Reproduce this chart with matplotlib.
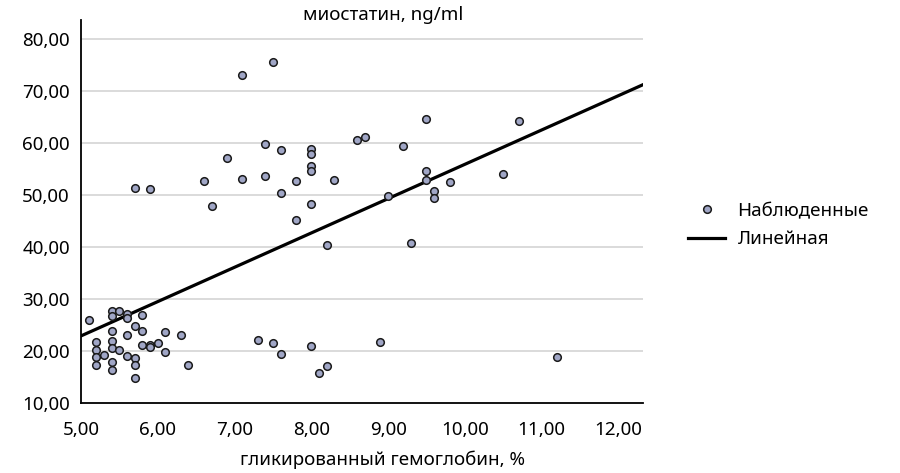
import numpy as np
import matplotlib.pyplot as plt
from matplotlib.lines import Line2D
from matplotlib.ticker import FuncFormatter

# гликированный гемоглобин, % (x) и миостатин, ng/ml (y)
hba1c = [5.1, 5.4, 5.4, 5.5, 5.6, 5.6, 5.8, 5.7, 5.4, 5.6, 5.8, 6.1, 6.3,
         5.2, 5.4, 5.4, 5.2, 5.2, 5.3, 5.5, 5.6, 5.8, 5.9, 5.9, 6.0, 6.1,
         5.2, 5.4, 5.4, 5.7, 5.7, 5.7, 6.4,
         7.3, 7.5, 7.6, 8.0, 8.1, 8.2, 8.9, 11.2,
         7.1, 7.5, 7.4, 7.6, 8.0, 8.0, 8.0, 8.0, 8.6, 8.7, 6.9, 6.6, 7.1,
         7.4, 7.6, 7.8, 8.3, 6.7, 8.0, 7.8,
         9.5, 10.7, 9.2, 9.5, 9.5, 9.8, 10.5, 9.6, 9.6, 9.0, 9.3,
         5.7, 5.9, 8.2]
myostatin = [26.0, 27.6, 26.8, 27.7, 27.1, 26.3, 26.9, 24.8, 23.9, 23.1, 23.9, 23.7, 23.1,
             21.7, 22.0, 20.5, 20.2, 18.9, 19.2, 20.2, 19.1, 21.2, 21.2, 20.8, 21.5, 19.9,
             17.4, 17.8, 16.4, 18.6, 17.3, 14.8, 17.4,
             22.1, 21.5, 19.5, 21.0, 15.8, 17.1, 21.7, 18.9,
             73.1, 75.6, 59.9, 58.7, 58.9, 57.9, 55.5, 54.6, 60.6, 61.2, 57.2, 52.6, 53.1,
             53.6, 50.3, 52.6, 52.9, 47.9, 48.3, 45.2,
             64.6, 64.2, 59.5, 54.7, 52.9, 52.5, 54.0, 50.8, 49.4, 49.9, 40.7,
             51.4, 51.2, 40.4]

# линейная аппроксимация
slope = 6.6
intercept = -10.1

x_min, x_max = 5.0, 12.32
y_min, y_max = 10.0, 83.65

plt.rcParams['font.family'] = ['Noto Sans', 'DejaVu Sans']

fig = plt.figure(figsize=(9, 4.73), dpi=100)
ax = fig.add_axes([81/900, 70/473, (643-81)/900, (403-20)/473])

ax.set_yticks([10, 20, 30, 40, 50, 60, 70, 80])
ax.set_xticks([5, 6, 7, 8, 9, 10, 11, 12])
for yv in [20, 30, 40, 50, 60, 70, 80]:
    ax.axhline(yv, color='#dadada', lw=1.4, zorder=0)

ax.scatter(hba1c, myostatin, s=30, c='#a0a6c6', edgecolors='#1a1a1a',
           linewidths=1.1, zorder=3)

xl = np.array([x_min, x_max])
ax.plot(xl, slope * xl + intercept, color='black', lw=2.3, zorder=2)

ax.set_xlim(x_min, x_max)
ax.set_ylim(y_min, y_max)

fmt = FuncFormatter(lambda v, p: f'{v:.2f}'.replace('.', ','))
ax.xaxis.set_major_formatter(fmt)
ax.yaxis.set_major_formatter(fmt)
ax.tick_params(length=0, labelsize=13.5, colors='black')
ax.tick_params(axis='x', pad=13)
ax.tick_params(axis='y', pad=8)

for s in ['top', 'right']:
    ax.spines[s].set_visible(False)
for s in ['left', 'bottom']:
    ax.spines[s].set_linewidth(1.3)
    ax.spines[s].set_color('black')

ax.set_title('миостатин, ng/ml', fontsize=13.5, pad=0, x=(383-81)/(643-81), y=1.0)
ax.set_xlabel('гликированный гемоглобин, %', fontsize=13.5)
ax.xaxis.set_label_coords((383-81)/(643-81), -0.125)

handles = [
    Line2D([], [], marker='o', ls='none', markersize=5.5, markerfacecolor='#a0a6c6',
           markeredgecolor='#1a1a1a', markeredgewidth=1.1),
    Line2D([], [], color='black', lw=2.3),
]
fig.legend(handles, ['Наблюденные', 'Линейная'], loc='center left',
           bbox_to_anchor=(671/900, 1 - 225/473), frameon=False, fontsize=13.5,
           handlelength=2.0, handletextpad=0.65, labelspacing=0.55)

fig.savefig('out.png', dpi=100)
